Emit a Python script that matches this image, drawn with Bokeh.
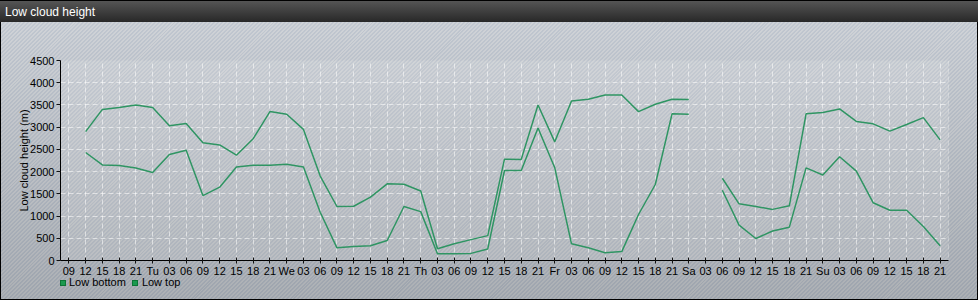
import math
from bokeh.plotting import figure
from bokeh.models import Range1d, FixedTicker, Div, Span
from bokeh.layouts import column
from bokeh.embed import file_html
from bokeh.resources import INLINE

NaN = float("nan")

tick_labels = ["09", "12", "15", "18", "21",
               "Tu", "03", "06", "09", "12", "15", "18", "21",
               "We", "03", "06", "09", "12", "15", "18", "21",
               "Th", "03", "06", "09", "12", "15", "18", "21",
               "Fr", "03", "06", "09", "12", "15", "18", "21",
               "Sa", "03", "06", "09", "12", "15", "18", "21",
               "Su", "03", "06", "09", "12", "15", "18", "21"]

low_top = [NaN, 2900, 3400, 3440, 3500, 3440, 3030, 3080, 2650, 2600, 2370,
           2740, 3350, 3290, 2950, 1900, 1215, 1220, 1425, 1725, 1715, 1565,
           265, 375, 470, 560, 2280, 2275, 3500, 2670, 3590, 3630, 3725, 3725,
           3350, 3515, 3630, 3620, NaN, 1850, 1275, 1215, 1150, 1230, 3300,
           3330, 3410, 3130, 3075, 2910, 3060, 3215, 2715]

low_bottom = [NaN, 2430, 2150, 2140, 2080, 1980, 2385, 2480, 1460, 1650, 2105,
              2145, 2145, 2165, 2105, 1085, 285, 315, 330, 450, 1215, 1100,
              150, 150, 160, 260, 2025, 2025, 2980, 2085, 375, 285, 175, 200,
              1035, 1710, 3300, 3290, NaN, 1580, 795, 495, 665, 750, 2085,
              1925, 2335, 2010, 1300, 1130, 1130, 765, 330]

y_ticks = [0, 500, 1000, 1500, 2000, 2500, 3000, 3500, 4000, 4500]

series_names = ["Low bottom", "Low top"]

x = list(range(len(tick_labels)))

FONT = "Liberation Sans"
LINE_COLOR = "#2f9563"
SWATCH = "#1b9a4f"

title_div = Div(
    text="Low cloud height",
    width=978, height=22, margin=0,
    styles={
        "background": "linear-gradient(#555555, #282828)",
        "color": "#ffffff",
        "font-family": FONT,
        "font-size": "12px",
        "line-height": "22px",
        "padding-left": "5px",
        "box-sizing": "border-box",
        "border-top": "1px solid #000",
    },
)

p = figure(
    width=978, height=257, margin=0,
    output_backend="svg", toolbar_location=None,
    x_range=Range1d(-0.5, len(tick_labels) - 0.5),
    y_range=Range1d(0, 4500),
    min_border_left=60, min_border_right=30,
    min_border_top=38, min_border_bottom=17,
    background_fill_color="white", background_fill_alpha=0.13,
    border_fill_alpha=0.0,
    outline_line_color=None,
)

r_bottom = p.line(x, low_bottom, line_color=LINE_COLOR, line_width=1.5)
r_top = p.line(x, low_top, line_color=LINE_COLOR, line_width=1.5)

# axes
p.xaxis.ticker = FixedTicker(ticks=x)
p.xaxis.major_label_overrides = {i: lab for i, lab in enumerate(tick_labels)}
p.yaxis.ticker = FixedTicker(ticks=y_ticks)
p.yaxis.axis_label = "Low cloud height (m)"

for ax in (p.xaxis[0], p.yaxis[0]):
    ax.axis_line_color = "#000000"
    ax.major_tick_line_color = "#111111"
    ax.minor_tick_line_color = None
    ax.major_label_text_font = FONT
    ax.major_label_text_font_size = "11px"
    ax.major_label_text_color = "#000000"
    ax.axis_label_text_font = FONT
    ax.axis_label_text_font_size = "11px"
    ax.axis_label_text_font_style = "normal"
    ax.axis_label_text_color = "#000000"

p.xaxis.major_tick_in = 3
p.xaxis.major_tick_out = 3
p.xaxis.major_label_standoff = 1
p.yaxis.major_tick_in = 0
p.yaxis.major_tick_out = 4
p.yaxis.major_label_standoff = 2
p.yaxis.axis_label_standoff = -3

for g in (p.xgrid[0], p.ygrid[0]):
    g.grid_line_color = "#ffffff"
    g.grid_line_alpha = 0.55
    g.grid_line_dash = "5 3"
p.xgrid.ticker = FixedTicker(ticks=x)
p.ygrid.ticker = FixedTicker(ticks=y_ticks)

p.add_layout(Span(location=len(tick_labels) - 0.5, dimension="height",
                  line_color="#ffffff", line_alpha=0.55, line_dash="5 3"))

sq = ('<span style="display:inline-block;width:6px;height:6px;background:%s;'
      'box-shadow:inset 0 0 0 1px rgba(0,80,30,0.5);margin-right:%dpx;margin-left:%dpx"></span>')
legend_html = (sq % (SWATCH, 3, 0) + series_names[0]
               + sq % (SWATCH, 4, 6) + series_names[1])

legend_div = Div(
    text=legend_html,
    width=978, height=21, margin=0,
    styles={
        "font-family": FONT,
        "font-size": "11px",
        "line-height": "7px",
        "color": "#000000",
        "padding-left": "60px",
        "padding-top": "0px",
        "box-sizing": "border-box",
        "white-space": "nowrap",
    },
)

layout = column(
    title_div, p, legend_div, width=978, height=300, spacing=0, margin=0,
    styles={
        "background": (
            "repeating-linear-gradient(135deg, rgba(255,255,255,0.10) 0px, "
            "rgba(255,255,255,0.10) 1.4px, rgba(120,145,185,0.12) 1.4px, "
            "rgba(120,145,185,0.12) 2.8px), linear-gradient(#cdd1d6, #a3a7ac)"
        ),
        "outline": "1px solid #000", "outline-offset": "-1px",
    },
)

open("out.html", "w").write(file_html(layout, INLINE))
